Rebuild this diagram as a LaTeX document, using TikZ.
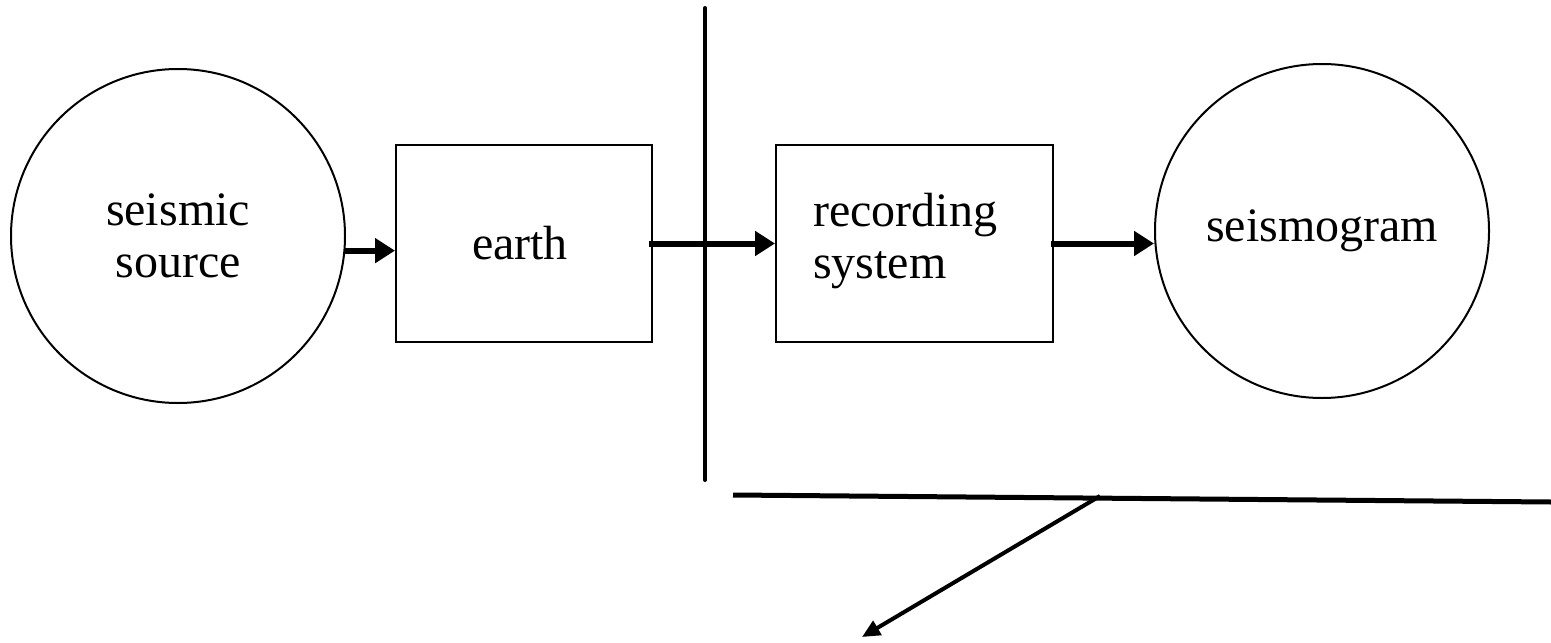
\documentclass[tikz,border=0pt]{standalone}
\usepackage{fontspec}
\setmainfont{Liberation Serif}
\usetikzlibrary{arrows.meta}
\begin{document}
\begin{tikzpicture}[x=0.5pt,y=-0.5pt,
  every node/.style={font=\fontsize{24}{26}\selectfont},
  blob/.style={circle,draw,line width=1pt,minimum size=167pt,inner sep=0pt,align=center},
  block/.style={rectangle,draw,line width=1pt,inner sep=0pt},
  flow/.style={line width=3pt,-{Triangle[length=10pt,width=12pt]}},
  divider/.style={line width=2pt,line cap=round},
  ray/.style={line width=2pt,-{Triangle[length=9pt,width=8pt]}}]
\useasboundingbox (0,0) rectangle (1551,642);
\node[blob] (src) at (178,236) {seismic\\source};
\node[block,minimum width=128pt,minimum height=98.5pt] (earth) at (524,243.5) {};
\node (earthtxt) at (520,243) {earth};
\node[block,minimum width=138.5pt,minimum height=98.5pt] (rec) at (914.5,243.5) {};
\node[anchor=west,align=left] (rectxt) at (806,241) {recording\\system};
\node[blob] (gram) at (1322,231) {seismogram};
\coordinate (vtop) at (705,8);
\coordinate (vbot) at (705,480);
\coordinate (hl) at (733,495);
\coordinate (hr) at (1551,502);
\coordinate (rs) at (1100,496);
\coordinate (re) at (862,637);
\draw[flow] (src.-5) -- (earth.west |- src.-5);
\draw[flow] ([xshift=-2pt]earth.east) -- (rec.west);
\draw[flow] ([xshift=-1.5pt]rec.east) -- (gram.west |- rec.east);
\draw[divider] (vtop) -- (vbot);
\draw[line width=2.5pt] (hl) -- (hr);
\draw[ray] (rs) -- (re);
\end{tikzpicture}
\end{document}
